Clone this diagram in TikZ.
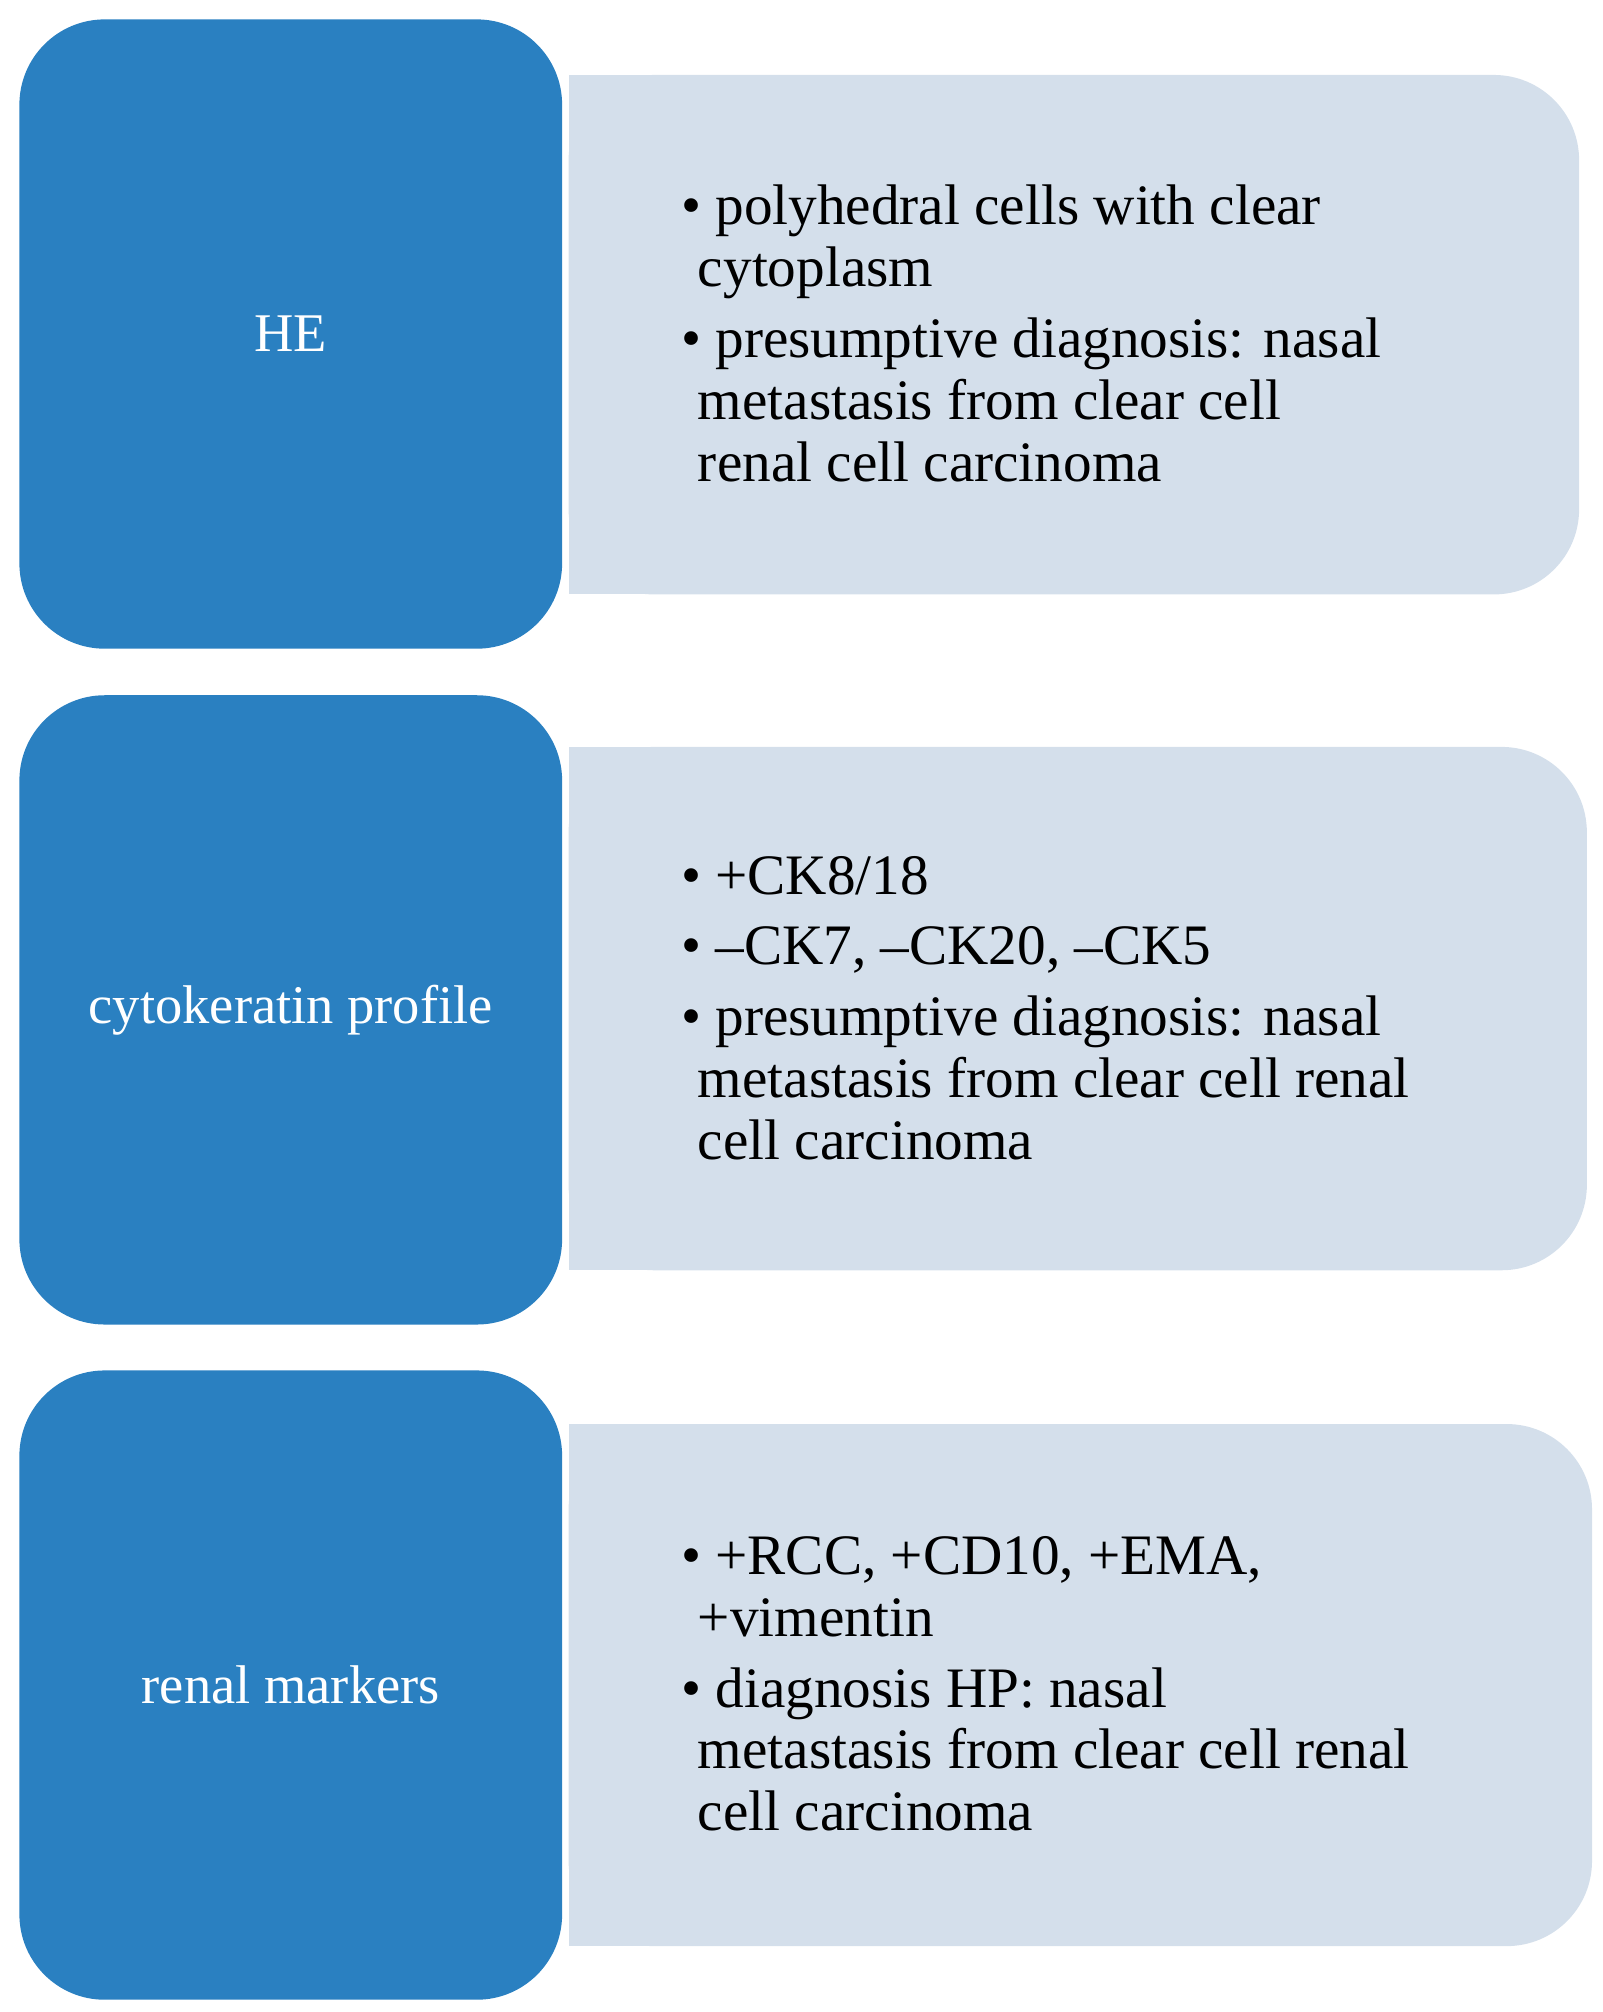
\documentclass[tikz,border=0pt]{standalone}
\usepackage{fontspec}
\setmainfont{Liberation Serif}
\definecolor{dblue}{HTML}{2A80C1}
\definecolor{lblue}{HTML}{D4DFEB}
\begin{document}
\begin{tikzpicture}[x=0.05cm,y=-0.05cm,
  bluebox/.style={fill=dblue,draw=none,rounded corners=3.3cm},
  lab/.style={text=white,font=\fontsize{60}{70}\selectfont},
  body/.style={anchor=west,align=left,font=\fontsize{63}{74}\selectfont,inner sep=0pt}]
\useasboundingbox (0,0) rectangle (1240,1557);
% box 1
\fill[lblue,rounded corners=3.3cm] (440,58) rectangle (1222,460);
\fill[lblue] (440,58) rectangle (700,460);
\node[bluebox,minimum width=21cm,minimum height=24.35cm] (b1) at (225,258.5) {};
\node[lab] (t1) at (b1) {HE};
\node[body] (c1) at (527,258) {\textbullet\ polyhedral cells with clear\\[-6pt]
\hspace{0.65cm}cytoplasm\\[4pt]
\textbullet\ presumptive diagnosis: nasal\\[-6pt]
\hspace{0.65cm}metastasis from clear cell\\[-6pt]
\hspace{0.65cm}renal cell carcinoma};
% box 2
\fill[lblue,rounded corners=3.3cm] (440,578) rectangle (1228,983);
\fill[lblue] (440,578) rectangle (700,983);
\node[bluebox,minimum width=21cm,minimum height=24.35cm] (b2) at (225,781.5) {};
\node[lab] (t2) at (b2) {cytokeratin profile};
\node[body] (c2) at (527,780) {\textbullet\ +CK8/18\\[4pt]
\textbullet\ –CK7, –CK20, –CK5\\[4pt]
\textbullet\ presumptive diagnosis: nasal\\[-6pt]
\hspace{0.65cm}metastasis from clear cell renal\\[-6pt]
\hspace{0.65cm}cell carcinoma};
% box 3
\fill[lblue,rounded corners=3.3cm] (440,1102) rectangle (1232,1506);
\fill[lblue] (440,1102) rectangle (700,1506);
\node[bluebox,minimum width=21cm,minimum height=24.35cm] (b3) at (225,1304) {};
\node[lab] (t3) at (b3) {renal markers};
\node[body] (c3) at (527,1303) {\textbullet\ +RCC, +CD10, +EMA,\\[-6pt]
\hspace{0.65cm}+vimentin\\[4pt]
\textbullet\ diagnosis HP: nasal\\[-6pt]
\hspace{0.65cm}metastasis from clear cell renal\\[-6pt]
\hspace{0.65cm}cell carcinoma};
\end{tikzpicture}
\end{document}
